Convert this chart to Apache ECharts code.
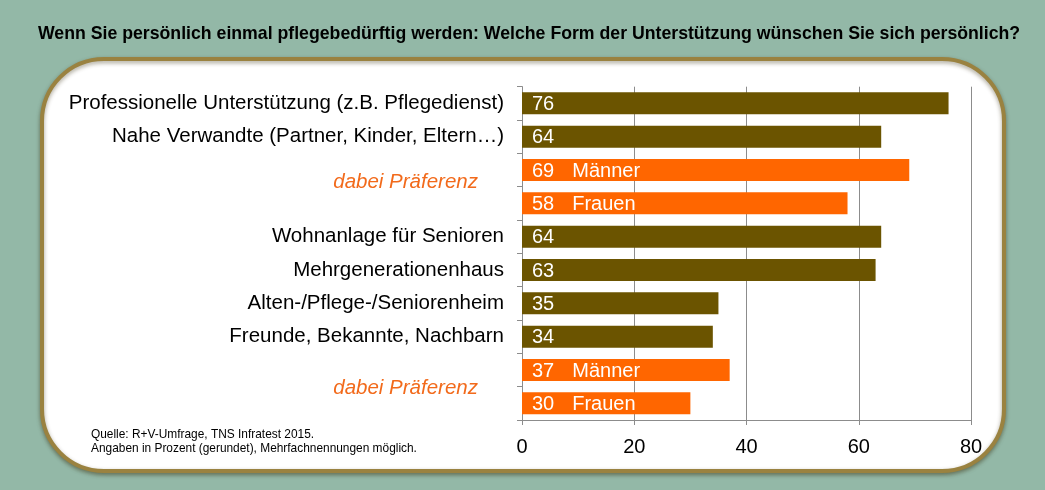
<!DOCTYPE html>
<html>
<head>
<meta charset="utf-8">
<script src="https://cdn.jsdelivr.net/npm/echarts@6/dist/echarts.min.js"></script>
<style>
  html, body { margin: 0; padding: 0; background: #93b8a7; }
  #chart { width: 1045px; height: 490px; }
</style>
</head>
<body>
<div id="chart"></div>
<script>
// Kategorien (leere Zeilen = Männer/Frauen-Unterzeilen)
var categories = [
  'Professionelle Unterstützung (z.B. Pflegedienst)',
  'Nahe Verwandte (Partner, Kinder, Eltern…)',
  '',
  '',
  'Wohnanlage für Senioren',
  'Mehrgenerationenhaus',
  'Alten-/Pflege-/Seniorenheim',
  'Freunde, Bekannte, Nachbarn',
  '',
  ''
];
var values = [76, 64, 69, 58, 64, 63, 35, 34, 37, 30];
var genderTags = ['', '', 'Männer', 'Frauen', '', '', '', '', 'Männer', 'Frauen'];
// Zeilen, an deren unterem Rand "dabei Präferenz" steht
var prefRows = [2, 8];
var prefText = 'dabei Präferenz';
var xTicks = [0, 20, 40, 60, 80];

var brown = '#6b5400';
var orange = '#ff6600';

var barData = values.map(function (v, i) {
  return {
    value: v,
    itemStyle: { color: genderTags[i] ? orange : brown }
  };
});

var prefStyle = {
  fontFamily: 'Liberation Sans',
  fontSize: 20.5,
  fontStyle: 'italic',
  color: '#f26a1b'
};

var mChart = echarts.init(document.getElementById('chart'));

var option = {
  backgroundColor: '#93b8a7',
  animation: false,
  title: {
    text: 'Wenn Sie persönlich einmal pflegebedürftig werden: Welche Form der Unterstützung wünschen Sie sich persönlich?',
    left: 33,
    top: 20,
    textStyle: {
      fontFamily: 'Liberation Sans',
      fontSize: 17.7,
      fontWeight: 'bold',
      color: '#000'
    }
  },
  graphic: [
    {
      type: 'rect',
      z: -10,
      silent: true,
      shape: { x: 42, y: 59, width: 962, height: 412, r: 62 },
      style: {
        fill: '#fff',
        stroke: '#9a8240',
        lineWidth: 4,
        shadowBlur: 4,
        shadowOffsetY: 2,
        shadowColor: 'rgba(60,50,20,0.45)'
      }
    },
    {
      type: 'text',
      left: 91,
      top: 428,
      silent: true,
      style: {
        text: 'Quelle: R+V-Umfrage, TNS Infratest 2015.\nAngaben in Prozent (gerundet), Mehrfachnennungen möglich.',
        fontFamily: 'Liberation Sans',
        fontSize: 11.9,
        lineHeight: 14,
        fill: '#000'
      }
    }
  ],
  grid: {
    left: 522,
    right: 74,
    top: 86.7,
    bottom: 70
  },
  xAxis: {
    type: 'value',
    min: 0,
    max: 80,
    interval: 20,
    axisLine: { show: true, lineStyle: { color: '#8c8c8c', width: 1 } },
    axisTick: { show: true, length: 5, lineStyle: { color: '#8c8c8c' } },
    splitLine: { show: true, lineStyle: { color: '#8c8c8c', width: 1 } },
    axisLabel: {
      margin: 17,
      fontFamily: 'Liberation Sans',
      fontSize: 20,
      color: '#000',
      formatter: function (v) {
        return xTicks.indexOf(v) >= 0 ? String(v) : '';
      }
    }
  },
  yAxis: {
    type: 'category',
    inverse: true,
    data: categories,
    axisLine: { show: true, lineStyle: { color: '#8c8c8c', width: 1 } },
    axisTick: { show: true, length: 5, lineStyle: { color: '#8c8c8c' } },
    axisLabel: {
      margin: 18,
      fontFamily: 'Liberation Sans',
      fontSize: 20.5,
      color: '#000',
      formatter: function (v, i) {
        var k = prefRows.indexOf(i);
        if (k >= 0) {
          return '{pref' + k + '|' + prefText + '}';
        }
        return v;
      },
      rich: {
        pref0: Object.assign({ padding: [24, 26, 0, 0] }, prefStyle),
        pref1: Object.assign({ padding: [36, 26, 0, 0] }, prefStyle)
      }
    }
  },
  series: [
    {
      type: 'bar',
      data: barData,
      barCategoryGap: '34%',
      label: {
        show: true,
        position: 'insideLeft',
        distance: 10,
        fontFamily: 'Liberation Sans',
        fontSize: 20,
        color: '#fff',
        formatter: function (p) {
          var tag = genderTags[p.dataIndex];
          return tag ? '{v|' + p.value + '}{s|' + tag + '}' : '{v|' + p.value + '}';
        },
        rich: {
          v: { fontFamily: 'Liberation Sans', fontSize: 20, color: '#fff', padding: [2, 0, 0, 0] },
          s: { fontFamily: 'Liberation Sans', fontSize: 20, color: '#fff', padding: [2, 0, 0, 18] }
        }
      }
    }
  ]
};

mChart.setOption(option);
</script>
</body>
</html>
